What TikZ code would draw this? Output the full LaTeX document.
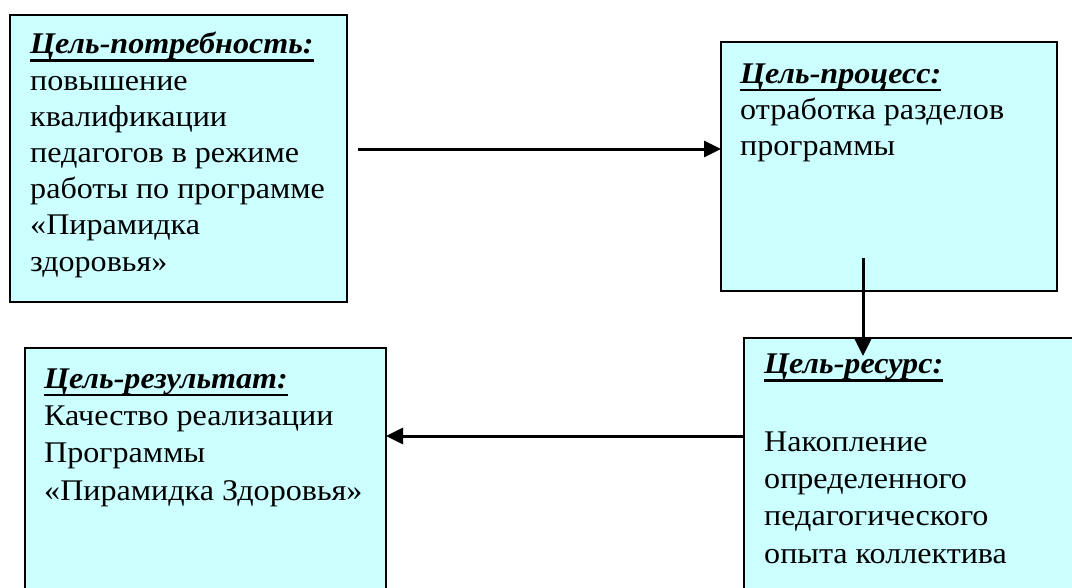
\documentclass[tikz,border=0pt]{standalone}
\usepackage{fontspec}
\setmainfont{Liberation Serif}[FakeStretch=1.07]
\usetikzlibrary{arrows.meta}
\newsavebox{\goalbox}
\newcommand{\goalhead}[1]{%
	\sbox{\goalbox}{\bfseries\itshape #1}%
	\rlap{\usebox{\goalbox}}\rule[-8pt]{\wd\goalbox}{2.5pt}}
\definecolor{goalcyan}{RGB}{204,255,255}
\tikzset{
	goal_box/.style = {
		rectangle,
		draw=black,
		fill=goalcyan,
		line width=2pt,
		anchor=north west,
		inner sep=0pt,
		outer sep=0pt
	},
	goal_text/.style = {
		anchor=base west,
		align=left,
		inner sep=0pt,
		font=\fontsize{30}{36}\selectfont
	},
	link/.style = {
		->,
		line width=3pt
	},
}

\begin{document}
\begin{tikzpicture}[x=1pt,y=-1pt,>={Triangle[length=17pt,width=16pt]}]
\useasboundingbox (0,0) rectangle (1072,587);
\clip (0,0) rectangle (1072,587);
% boxes
\node [goal_box, minimum width=337pt, minimum height=287pt] (need) at (10,15) {};
\node [goal_box, minimum width=336pt, minimum height=249pt] (process) at (721,42) {};
\node [goal_box, minimum width=361pt, minimum height=280pt] (result) at (25,348) {};
\node [goal_box, minimum width=360pt, minimum height=280pt] (resource) at (744,338) {};
% texts (anchored at the last line)
\node [goal_text, font=\fontsize{30}{36.2}\selectfont] (need_text) at ([xshift=20pt,yshift=-256pt]need.north west) {
	\goalhead{Цель-потребность:}\\
	повышение\\
	квалификации\\
	педагогов в режиме\\
	работы по программе\\
	«Пирамидка\\
	здоровья»
};
\node [goal_text] (process_text) at ([xshift=19pt,yshift=-113pt]process.north west) {
	\goalhead{Цель-процесс:}\\
	отработка разделов\\
	программы
};
\node [goal_text, font=\fontsize{30}{37.3}\selectfont] (result_text) at ([xshift=19pt,yshift=-152pt]result.north west) {
	\goalhead{Цель-результат:}\\
	Качество реализации\\
	Программы\\
	«Пирамидка Здоровья»
};
\node [goal_text, font=\fontsize{30}{37.3}\selectfont] (resource_text) at ([xshift=20pt,yshift=-225pt]resource.north west) {
	\goalhead{Цель-ресурс:}\\[40pt]
	Накопление\\
	определенного\\
	педагогического\\
	опыта коллектива
};
% arrows
\coordinate (need_out) at (358,149);
\coordinate (process_out) at (863,258);
\coordinate (resource_in) at (863,356);
\draw [link] (need_out) -- (need_out -| process.west);
\draw [link] (process_out) -- (resource_in);
\draw [link] (resource.west |- 0,436) -- (result.east |- 0,436);
\end{tikzpicture}
\end{document}
